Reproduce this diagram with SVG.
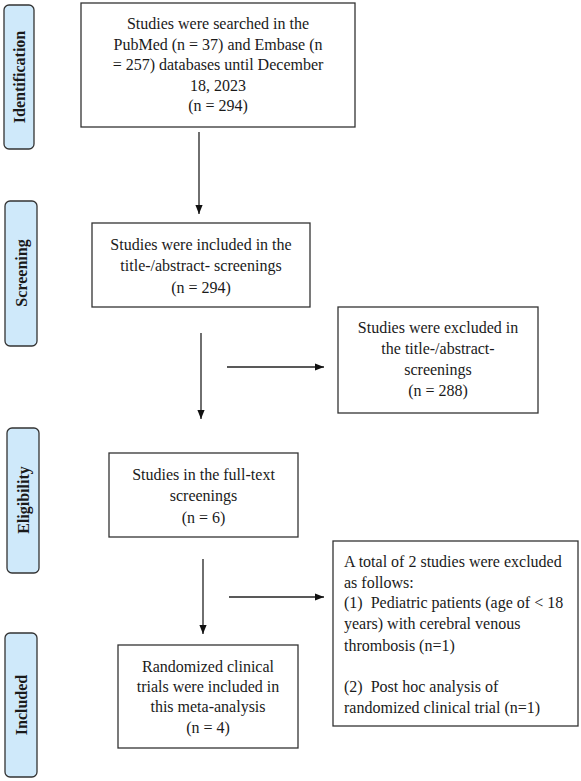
<svg xmlns="http://www.w3.org/2000/svg" width="581" height="781" viewBox="0 0 581 781">
<defs>
<marker id="ah" viewBox="0 0 10 10" refX="10" refY="5" markerWidth="9" markerHeight="9" markerUnits="userSpaceOnUse" orient="auto">
<path d="M0,1 L10,5 L0,9 z" fill="#111"/>
</marker>
</defs>
<style>
.box{fill:#fff;stroke:#333;stroke-width:1.3}
.stage{fill:#cfe9fa;stroke:#333;stroke-width:1.3}
text{font-family:'Liberation Serif','Tinos','DejaVu Serif',serif}
.t{font-size:16px;fill:#1a1a1a}
.c{text-anchor:middle}
.s{font-size:16px;font-weight:bold;fill:#1a1a1a;text-anchor:middle}
.ln{stroke:#222;stroke-width:1.3;fill:none}
</style>
<rect width="581" height="781" fill="#fff"/>
<g font-family="Liberation Serif, DejaVu Serif, serif">
<g id="stage-identification"><rect class="stage" x="4" y="5" width="30" height="144" rx="5"/><text class="s" transform="translate(24.5,77) rotate(-90)">Identification</text></g>
<g id="stage-screening"><rect class="stage" x="5" y="201" width="32" height="145" rx="5"/><text class="s" transform="translate(26.5,273) rotate(-90)">Screening</text></g>
<g id="stage-eligibility"><rect class="stage" x="7" y="428" width="32" height="145" rx="5"/><text class="s" transform="translate(28.5,500) rotate(-90)">Eligibility</text></g>
<g id="stage-included"><rect class="stage" x="5" y="633" width="32" height="144" rx="5"/><text class="s" transform="translate(26.5,705) rotate(-90)">Included</text></g>
<g id="identification">
<rect class="box" x="81" y="3" width="274" height="124"/>
<text class="t c" x="218" y="29">Studies were searched in the</text>
<text class="t c" x="218" y="50">PubMed (n = 37) and Embase (n</text>
<text class="t c" x="218" y="70">= 257) databases until December</text>
<text class="t c" x="218" y="91">18, 2023</text>
<text class="t c" x="218" y="111">(n = 294)</text>
</g>
<g id="screening">
<rect class="box" x="92" y="223" width="218" height="84"/>
<text class="t c" x="201" y="250">Studies were included in the</text>
<text class="t c" x="201" y="271">title-/abstract- screenings</text>
<text class="t c" x="201" y="293">(n = 294)</text>
</g>
<g id="excluded-screening">
<rect class="box" x="338" y="307" width="200" height="106"/>
<text class="t c" x="438" y="333">Studies were excluded in</text>
<text class="t c" x="438" y="354">the title-/abstract-</text>
<text class="t c" x="438" y="375">screenings</text>
<text class="t c" x="438" y="396">(n = 288)</text>
</g>
<g id="eligibility">
<rect class="box" x="109" y="453" width="189" height="84"/>
<text class="t c" x="203.5" y="480">Studies in the full-text</text>
<text class="t c" x="203.5" y="501">screenings</text>
<text class="t c" x="203.5" y="523">(n = 6)</text>
</g>
<g id="included">
<rect class="box" x="118" y="645" width="180" height="103"/>
<text class="t c" x="208" y="672">Randomized clinical</text>
<text class="t c" x="208" y="692">trials were included in</text>
<text class="t c" x="208" y="712">this meta-analysis</text>
<text class="t c" x="208" y="733">(n = 4)</text>
</g>
<g id="excluded-fulltext">
<rect class="box" x="333" y="541" width="245" height="185"/>
<text class="t" x="344" y="567">A total of 2 studies were excluded</text>
<text class="t" x="344" y="588">as follows:</text>
<text class="t" x="344" y="608" xml:space="preserve">(1)  Pediatric patients (age of &lt; 18</text>
<text class="t" x="344" y="629">years) with cerebral venous</text>
<text class="t" x="344" y="651">thrombosis (n=1)</text>
<text class="t" x="344" y="692" xml:space="preserve">(2)  Post hoc analysis of</text>
<text class="t" x="344" y="713">randomized clinical trial (n=1)</text>
</g>
</g>
<g id="connectors">
<line class="ln" x1="199" y1="132" x2="199" y2="214" marker-end="url(#ah)"/>
<line class="ln" x1="201" y1="333" x2="201" y2="419" marker-end="url(#ah)"/>
<line class="ln" x1="227" y1="367" x2="324" y2="367" marker-end="url(#ah)"/>
<line class="ln" x1="203" y1="559" x2="203" y2="634" marker-end="url(#ah)"/>
<line class="ln" x1="229" y1="597" x2="324" y2="597" marker-end="url(#ah)"/>
</g>
</svg>
